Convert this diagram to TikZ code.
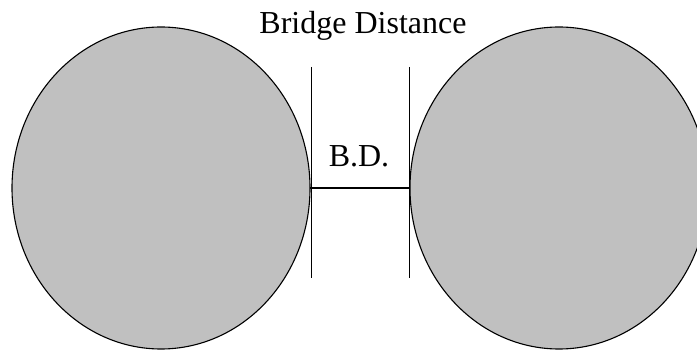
\documentclass[tikz,border=0pt]{standalone}
\usepackage{fontspec}
\setmainfont{Liberation Serif}
\usetikzlibrary{shapes.geometric}
\definecolor{blobgray}{RGB}{192,192,192}
\begin{document}
\begin{tikzpicture}[x=1pt,y=-1pt,
  blob/.style={ellipse,draw=black,fill=blobgray,line width=1.1pt,minimum width=298pt,minimum height=322pt,inner sep=0pt,outer sep=0pt},
  wall/.style={draw=black,line width=1pt},
  bridge/.style={draw=black,line width=1.5pt},
  lbl/.style={anchor=base,inner sep=0pt,font=\fontsize{32}{38}\selectfont}]
\useasboundingbox (0,0) rectangle (697,350);
\clip (0,0) rectangle (697,350);
\node[blob] (L) at (161,188) {};
\node[blob] (R) at (559,188) {};
\coordinate (LT) at (311,67);
\coordinate (LB) at (311,278);
\coordinate (RT) at (409,67);
\coordinate (RB) at (409,278);
\draw[wall] (LT) -- (LB);
\draw[wall] (RT) -- (RB);
\draw[bridge] (L.east) -- (R.west);
\node[lbl] (title) at (363,34) {Bridge Distance};
\node[lbl] (bd) at (359,167) {B.D.};
\end{tikzpicture}
\end{document}
